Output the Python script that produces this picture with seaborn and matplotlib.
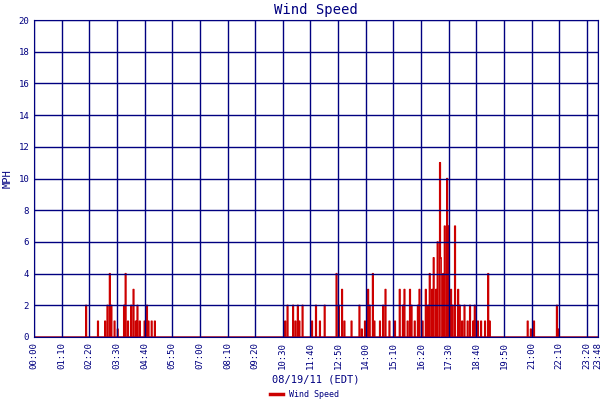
import numpy as np
import pandas as pd
import seaborn as sns
import matplotlib
matplotlib.use("Agg")
import matplotlib.pyplot as plt

# minutes after midnight with nonzero wind speed, and the MPH reading there
gust_minutes = [132, 162, 180, 187, 192, 197, 205, 213, 228, 233, 238, 246, 253, 258, 263, 268,
                281, 286, 291, 299, 306,
                636, 643, 656, 663, 668, 673, 681, 704, 714, 724, 737,
                767, 772, 780, 787, 805, 825, 830, 838, 846, 851, 858, 863, 876, 884, 891, 901, 914,
                927, 934, 939, 947, 952, 957, 965, 972, 977, 985, 993, 998, 1003, 1008, 1013, 1018,
                1023, 1028, 1030, 1036, 1041, 1046, 1051, 1056, 1061, 1066, 1074, 1079, 1084, 1091,
                1099, 1104, 1112, 1117, 1124, 1132, 1142, 1150, 1155, 1251, 1258, 1266, 1324, 1329]
gust_mph = [2, 1, 1, 2, 4, 2, 1, 0.5, 2, 4, 1, 2, 3, 1, 2, 1,
            1, 2, 1, 1, 1,
            1, 2, 2, 1, 2, 1, 2, 1, 2, 1, 2,
            4, 2, 3, 1, 1, 2, 0.5, 1, 3, 2, 4, 1, 1, 2, 3, 1, 1,
            3, 2, 3, 1, 3, 2, 1, 2, 3, 1, 3, 2, 4, 3, 5, 3,
            6, 11, 5, 4, 7, 10, 7, 3, 2, 7, 3, 2, 1, 2,
            1, 2, 1, 2, 1, 1, 1, 4, 1, 1, 0.5, 1, 2, 0.5]

tick_minutes = list(range(0, 1401, 70)) + [1428]
tick_labels = [f"{m // 60:02d}:{m % 60:02d}" for m in tick_minutes]

minutes = np.arange(0, 1429, 2)
speed = pd.Series(0.0, index=minutes)
for m, v in zip(gust_minutes, gust_mph):
    speed[m - m % 2] = v
df = pd.DataFrame({"minute": minutes, "mph": speed.values})

navy = "#000080"
plt.rcParams["font.family"] = "DejaVu Sans Mono"
fig = plt.figure(figsize=(6, 4), dpi=100)
ax = fig.add_axes([34 / 600, 63 / 400, 564 / 600, 317 / 400])
sns.lineplot(data=df, x="minute", y="mph", ax=ax, color="#cc0000", lw=1,
             drawstyle="steps-mid", label="Wind Speed")
ax.set_xlim(0, 1428)
ax.set_ylim(0, 20)
ax.set_xticks(tick_minutes)
ax.set_xticklabels(tick_labels, rotation=90, fontsize=6.5, color=navy)
ax.set_yticks(range(0, 21, 2))
ax.tick_params(axis="y", labelsize=6.5, labelcolor=navy, length=0)
ax.tick_params(axis="x", length=0)
ax.grid(True, color=navy, lw=1)
ax.set_axisbelow(False)
for s in ax.spines.values():
    s.set_color(navy)
ax.set_title("Wind Speed", color=navy, fontsize=10, pad=4)
ax.set_ylabel("MPH", color=navy, fontsize=7.5)
ax.set_xlabel("08/19/11 (EDT)", color=navy, fontsize=7.5)
leg = ax.legend(loc="center", bbox_to_anchor=(0.48, -0.18), frameon=False,
                fontsize=6, labelcolor=navy, handlelength=1.5)
for h in leg.get_lines():
    h.set_linewidth(2.5)
fig.savefig("out.png", dpi=100)
